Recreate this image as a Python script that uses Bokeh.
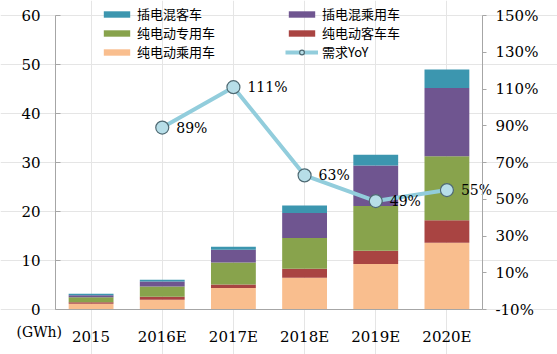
from bokeh.plotting import figure
from bokeh.models import (ColumnDataSource, LinearAxis, Range1d, FixedTicker,
                          Legend, LegendItem, Label)
from bokeh.embed import file_html
from bokeh.resources import INLINE
from bokeh.core.properties import value

years = ["2015", "2016E", "2017E", "2018E", "2019E", "2020E"]
bev_passenger = [1.15, 2.0, 4.4, 6.5, 9.3, 13.6]   # 纯电动乘用车
bev_bus = [0.35, 0.6, 0.7, 1.8, 2.7, 4.6]           # 纯电动客车车
bev_special = [1.0, 2.1, 4.5, 6.3, 9.1, 13.1]       # 纯电动专用车
phev_passenger = [0.4, 1.0, 2.6, 5.1, 8.3, 13.9]    # 插电混乘用车
phev_bus = [0.3, 0.35, 0.6, 1.5, 2.2, 3.8]          # 插电混客车
yoy_years = ["2016E", "2017E", "2018E", "2019E", "2020E"]
yoy = [89, 111, 63, 49, 55]                          # 需求YoY (%)
left_ticks = [0, 10, 20, 30, 40, 50, 60]
right_ticks = [-10, 10, 30, 50, 70, 90, 110, 130, 150]

names = ["bev_passenger", "bev_bus", "bev_special", "phev_passenger", "phev_bus"]
labels = ["纯电动乘用车", "纯电动客车车", "纯电动专用车", "插电混乘用车", "插电混客车"]
colors = ["#F9BE8E", "#A94442", "#88A34C", "#6F5590", "#3C96AF"]

xi = list(range(len(years)))
yoy_x = [years.index(y) for y in yoy_years]

src = ColumnDataSource(dict(x=xi, bev_passenger=bev_passenger, bev_bus=bev_bus,
                            bev_special=bev_special, phev_passenger=phev_passenger,
                            phev_bus=phev_bus))

FONT_NUM = "DejaVu Serif"
FONT_CJK = "Noto Sans CJK SC"

W, H = 557, 354
# pixel layout of the plotting area inside the canvas
LEFT, RIGHT, TOP, BOTTOM = 55, 482, 15, 309
step = (RIGHT - LEFT) / len(years)
x0 = -0.5 - LEFT / step
x1 = len(years) - 0.5 + (W - RIGHT) / step
ppu = (BOTTOM - TOP) / 60.0
y0 = -(H - BOTTOM) / ppu
y1 = 60 + TOP / ppu
ppr = (BOTTOM - TOP) / 160.0
r0 = -10 - (H - BOTTOM) / ppr
r1 = 150 + TOP / ppr

p = figure(width=W, height=H, x_range=Range1d(x0, x1), y_range=Range1d(y0, y1),
           output_backend="svg", toolbar_location=None,
           x_axis_location=None, y_axis_location=None, min_border=0)
p.min_border_left = p.min_border_right = p.min_border_top = p.min_border_bottom = 0
p.outline_line_color = None
p.background_fill_color = "white"

bars = p.vbar_stack(names, x="x", width=0.63, source=src, color=colors, line_color=None)

p.extra_y_ranges = {"yoy": Range1d(r0, r1)}
yoy_src = ColumnDataSource(dict(x=yoy_x, y=yoy, lab=[f"{v}%" for v in yoy]))
ln = p.line("x", "y", source=yoy_src, y_range_name="yoy", line_color="#92CDDC", line_width=4)
mk = p.scatter("x", "y", source=yoy_src, y_range_name="yoy", size=13,
               fill_color="#B7DEE8", line_color="#4F6A73", line_width=1.2)
p.text("x", "y", text="lab", source=yoy_src, y_range_name="yoy", x_offset=14,
       text_baseline="middle", text_align="left", text_font=value(FONT_NUM),
       text_font_size="14px", text_color="black")

ax_color = "#A6A6A6"

def style(ax):
    ax.axis_line_color = ax_color
    ax.major_tick_line_color = ax_color
    ax.minor_tick_line_color = None
    ax.major_label_text_font = FONT_NUM
    ax.major_label_text_font_size = "15px"
    ax.major_label_text_color = "black"

ly = LinearAxis(ticker=FixedTicker(ticks=left_ticks), fixed_location=-0.5, bounds=(0, 60))
style(ly)
ly.major_tick_in = 5
ly.major_tick_out = 0
ly.major_label_standoff = 15
p.add_layout(ly, "left")

ry = LinearAxis(y_range_name="yoy", ticker=FixedTicker(ticks=right_ticks),
                fixed_location=len(years) - 0.5, bounds=(-10, 150))
ry.major_label_overrides = {t: f"{t}%" for t in right_ticks}
style(ry)
ry.major_tick_in = 0
ry.major_tick_out = 4
ry.major_label_standoff = 9
p.add_layout(ry, "right")

bx = LinearAxis(ticker=FixedTicker(ticks=xi), fixed_location=0, bounds=(-0.5, len(years) - 0.5))
bx.major_label_overrides = {i: y for i, y in zip(xi, years)}
style(bx)
bx.major_tick_line_color = None
bx.major_label_standoff = 12
p.add_layout(bx, "below")

p.add_layout(Label(x=16, y=H - 331, x_units="screen", y_units="screen", text="(GWh)",
                   text_font=FONT_NUM, text_font_size="14px", text_baseline="middle",
                   text_color="black"))

def add_legend(label, renderers, x, row, gh=8):
    centre = H - 14 - 19 * row
    lg = Legend(items=[LegendItem(label=label, renderers=renderers)],
                location=(x, centre - 9), orientation="vertical",
                padding=0, margin=0, spacing=0, label_height=18, glyph_height=gh,
                glyph_width=33, label_standoff=4, label_text_font=FONT_CJK,
                label_text_font_size="13px", label_text_line_height=1.0,
                label_text_color="black",
                background_fill_alpha=0, border_line_alpha=0)
    p.add_layout(lg)

add_legend(labels[4], [bars[4]], 100, 0)
add_legend(labels[2], [bars[2]], 100, 1)
add_legend(labels[0], [bars[0]], 100, 2)
add_legend(labels[3], [bars[3]], 285, 0)
add_legend(labels[1], [bars[1]], 285, 1)
add_legend("需求YoY", [ln, mk], 285, 2, gh=12)

open("out.html", "w").write(file_html(p, INLINE))
